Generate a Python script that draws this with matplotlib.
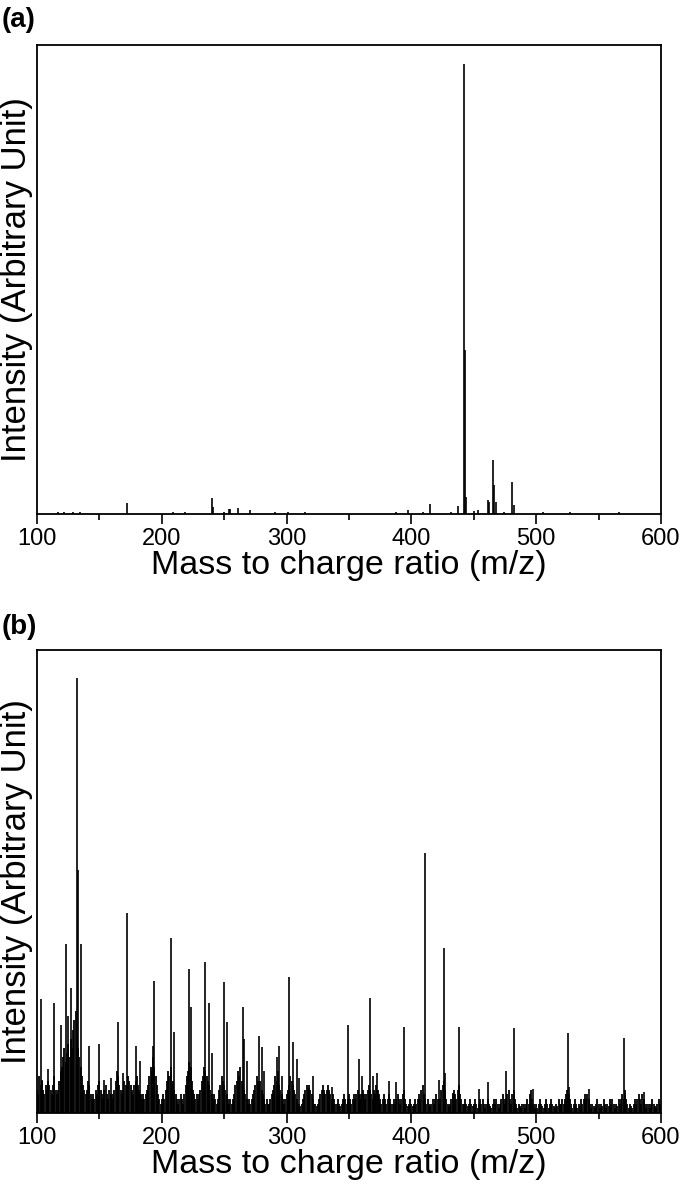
import matplotlib
matplotlib.use('Agg')
import matplotlib.pyplot as plt
import numpy as np
from matplotlib.ticker import MultipleLocator

plt.rcParams['font.family'] = ['Liberation Sans', 'DejaVu Sans']

# ---- spectrum (a): m/z and relative height (% of axis height)
mz_a = [117, 122, 129, 134.5, 172, 209, 218.6, 240, 241, 250, 253.6, 255, 261, 270.7,
        290.7, 301.4, 314.7, 387.4, 397.4, 409, 415, 431.7, 437, 442, 443, 444,
        449.9, 453.4, 461.4, 462.2, 465, 466, 467.5, 474.2, 481, 482, 505.5, 527, 566]
int_a = [0.5, 0.5, 0.5, 0.5, 2.3, 0.4, 0.4, 3.4, 1.5, 0.5, 1.0, 1.0, 1.3, 0.8,
         0.4, 0.4, 0.5, 0.4, 0.8, 0.4, 2.1, 0.5, 1.7, 96, 35, 3.6,
         0.6, 0.8, 3.0, 2.5, 11.5, 6.2, 2.6, 0.5, 6.8, 1.9, 0.4, 0.4, 0.4]

# ---- spectrum (b): major peaks
mz_b = [103, 104, 109, 114, 119, 123, 125, 127, 132, 133, 135, 142, 150, 154, 159,
        165, 169, 172, 179, 182.5, 193, 194, 207.5, 210, 222, 223.5, 235, 238, 240,
        249.5, 252.5, 265, 266, 268.5, 278, 280, 281.5, 292.5, 294, 296, 302, 305.5,
        308, 310, 318, 321.5, 334, 336.5, 349, 358, 360.5, 366.5, 369.5, 372.5, 382,
        388, 394, 410.5, 422, 426, 427, 433.5, 438, 454, 461, 475.5, 482, 497.5,
        525.5, 526.5, 542.5, 570.5, 571.5, 586.5]
int_b = [24.6, 7.2, 9.5, 23.8, 19, 36.6, 21, 27.1, 94, 52.5, 36.6, 14.5, 15, 7.2, 7.6,
         19.6, 8.6, 43.1, 14.5, 11.2, 14.5, 28.5, 37.9, 17.5, 31, 23, 32.7, 23.8, 13,
         28.2, 19.6, 22.8, 16, 11.2, 16.6, 14.3, 9, 12, 14.5, 8, 29.4, 15.4,
         11.6, 7.6, 5.3, 8, 4.6, 5.7, 18.9, 11.6, 8, 24.8, 8, 8.6, 7,
         6.7, 18.6, 56.2, 7.2, 35.6, 8.6, 4.3, 18.6, 5.2, 6.6, 9, 18.3, 5.2,
         17.2, 5.6, 5.2, 16.3, 4.3, 4.6]

# ---- spectrum (b): low-level background, one value per m/z 100..599
grass_mz = np.arange(100, 600)
grass_b = [
    5, 4, 8, 6, 7, 5, 4, 6, 5, 7, 6, 5, 4, 6, 8, 5, 4, 5, 7, 9,
    10, 12, 14, 11, 13, 15, 12, 16, 14, 18, 20, 22, 16, 14, 12, 10, 8, 6, 5, 4,
    5, 7, 6, 4, 3, 4, 3, 5, 4, 6,
    7, 5, 4, 3, 5, 6, 4, 3, 5, 4, 3, 4, 5, 7, 9, 8, 6, 5, 4, 5,
    7, 6, 5, 8, 7, 6, 5, 4, 6, 7, 8, 6, 5, 4, 3, 4, 3, 4, 5, 6,
    8, 10, 9, 12, 10, 8, 6, 4, 3, 2,
    3, 4, 3, 5, 7, 9, 8, 10, 6, 7, 5, 4, 3, 2, 3, 4, 3, 2, 4, 6,
    8, 9, 11, 10, 7, 5, 4, 3, 4, 3, 4, 5, 7, 8, 10, 9, 8, 7, 6, 5,
    4, 3, 4, 3, 2, 3, 5, 6, 8, 7,
    6, 5, 4, 3, 2, 3, 2, 3, 4, 6, 7, 9, 8, 10, 7, 6, 5, 4, 3, 2,
    3, 2, 3, 4, 5, 6, 8, 7, 6, 7, 5, 4, 3, 2, 3, 2, 2, 3, 4, 5,
    6, 8, 7, 9, 6, 5, 4, 3, 2, 3,
    4, 5, 6, 8, 7, 6, 5, 4, 3, 2, 2, 1.5, 2, 3, 4, 5, 6, 5, 6, 5,
    4, 3, 2, 2, 1.5, 2, 3, 4, 5, 6, 5, 4, 5, 6, 5, 4, 3, 4, 3, 2,
    2, 3, 2, 1.5, 2, 3, 4, 3, 2, 3,
    4, 3, 2, 3, 4, 3, 4, 5, 4, 3, 4, 5, 4, 3, 4, 5, 6, 5, 4, 3,
    5, 4, 6, 5, 4, 3, 2, 3, 4, 3, 2, 3, 4, 3, 2, 2, 3, 2, 3, 4,
    3, 2, 3, 4, 5, 3, 2, 1.5, 2, 3,
    2, 1.5, 2, 3, 2, 3, 4, 3, 5, 6, 4, 3, 2, 3, 2, 1.5, 2, 3, 2, 3,
    4, 3, 2, 3, 5, 6, 7, 5, 3, 2, 1.5, 2, 3, 4, 5, 4, 3, 5, 6, 4,
    3, 2, 2, 3, 2, 1.5, 2, 3, 2, 1.5,
    2, 3, 2, 1, 2, 3, 2, 3, 2, 1, 2, 3, 2, 1.5, 1, 2, 3, 2, 3, 2,
    1, 2, 3, 4, 3, 2, 3, 4, 5, 3, 2, 4, 5, 3, 2, 1, 2, 1.5, 1, 2,
    2, 1, 2, 3, 2, 4, 5, 3, 2, 1,
    2, 1, 2, 3, 2, 1.5, 1, 2, 3, 2, 1, 2, 3, 2, 1.5, 1, 2, 1.5, 3, 2,
    2, 3, 2, 3, 4, 5, 4, 3, 2, 1, 2, 3, 2, 1, 2, 1.5, 3, 2, 3, 4,
    3, 4, 3, 2, 1, 2, 1.5, 1, 2, 3,
    2, 1, 2, 1.5, 3, 2, 1, 2, 1.5, 3, 2, 3, 2, 1, 2, 1.5, 3, 2, 3, 4,
    3, 5, 3, 2, 1, 2, 1.5, 1, 2, 3, 2, 3, 4, 3, 2, 4, 3, 2, 1, 2,
    2, 1, 2, 3, 2, 1.5, 1, 2, 3, 2,
]

fig = plt.figure(figsize=(6.85, 11.84), dpi=100)
ax_a = fig.add_axes([37 / 685, 1 - 514 / 1184, 624 / 685, 469 / 1184])
ax_b = fig.add_axes([37 / 685, 1 - 1113 / 1184, 624 / 685, 463 / 1184])

ax_a.vlines(mz_a, 0, int_a, color='black', lw=1.2)
ax_b.vlines(grass_mz, 0, grass_b, color='black', lw=1.3)
ax_b.vlines(mz_b, 0, int_b, color='black', lw=1.2)

for ax in (ax_a, ax_b):
    ax.set_xlim(100, 600)
    ax.set_ylim(0, 100)
    ax.set_yticks([])
    ax.xaxis.set_major_locator(MultipleLocator(100))
    ax.xaxis.set_minor_locator(MultipleLocator(50))
    ax.tick_params(axis='x', which='major', direction='out', length=7, width=1.2,
                   labelsize=17, pad=3)
    ax.tick_params(axis='x', which='minor', direction='out', length=4, width=1.2)
    for s in ax.spines.values():
        s.set_linewidth(1.3)
    ax.set_xlabel('Mass to charge ratio (m/z)', fontsize=24.5, labelpad=0)
    ax.set_ylabel('Intensity (Arbitrary Unit)', fontsize=25, labelpad=3)

fig.text(0.003, 1 - 20 / 1184, '(a)', fontsize=20, fontweight='bold', va='center')
fig.text(0.003, 1 - 627 / 1184, '(b)', fontsize=20, fontweight='bold', va='center')

fig.savefig('out.png', dpi=100)
